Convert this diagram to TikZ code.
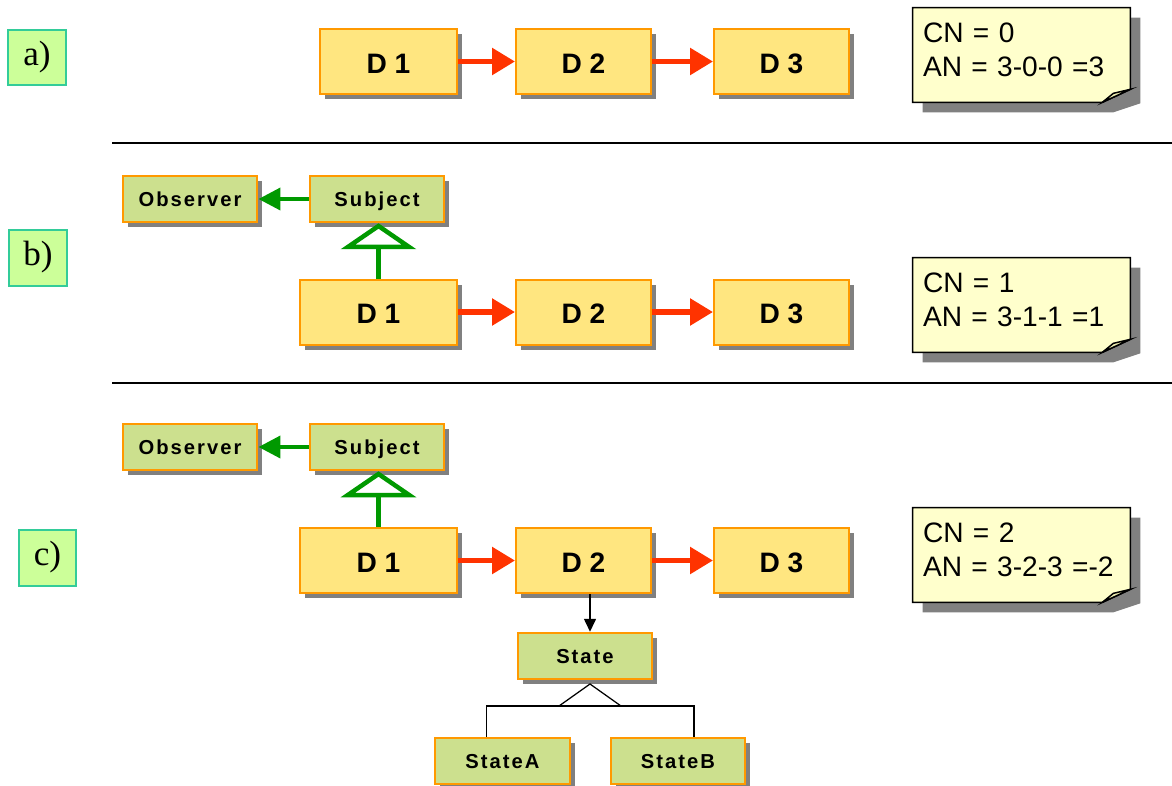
\documentclass[tikz,border=0pt]{standalone}
\usepackage{fontspec}
\setmainfont{Liberation Sans}
\newfontfamily\labelfont{Liberation Serif}
\newfontfamily\spacedfont[LetterSpace=10]{Liberation Sans}
\usetikzlibrary{arrows.meta,shadows,calc,backgrounds}
\definecolor{dfill}{HTML}{FFE680}
\definecolor{gfill}{HTML}{CCE08E}
\definecolor{boxline}{HTML}{FF9900}
\definecolor{shadowgray}{HTML}{808080}
\definecolor{redarrow}{HTML}{FF3300}
\definecolor{greenarrow}{HTML}{009900}
\definecolor{notefill}{HTML}{FFFFCC}
\definecolor{foldfill}{HTML}{EEEEB0}
\definecolor{tagfill}{HTML}{CCFF99}
\definecolor{tagline}{HTML}{33CC99}

% sticky note with folded corner, drawn behind the text node
\newcommand{\drawnote}[1]{%
  \begin{scope}[on background layer]
    \fill[shadowgray] ($(#1.north west)+(10,10)$) -- ($(#1.north east)+(10,10)$)
      -- ($(#1.south east)+(10,1)$) -- ($(#1.south east)+(-17,10)$)
      -- ($(#1.south west)+(10,10)$) -- cycle;
    \draw[line width=0.03cm, fill=notefill] (#1.north west) -- (#1.north east)
      -- ($(#1.south east)+(0,-13)$) -- ($(#1.south east)+(-28,0)$)
      -- (#1.south west) -- cycle;
    \draw[line width=0.03cm, fill=foldfill] ($(#1.south east)+(0,-13)$)
      -- ($(#1.south east)+(-17,-9)$) -- ($(#1.south east)+(-28,0)$) -- cycle;
  \end{scope}}

\begin{document}
\begin{tikzpicture}[x=0.02cm, y=-0.02cm,
    every node/.style={shape=rectangle, inner sep=0pt, align=center}]
  \tikzset{
    boxshadow/.style={drop shadow={shadow xshift=0.1cm, shadow yshift=-0.1cm, fill=shadowgray, opacity=1}},
    dbox/.style={draw=boxline, line width=0.04cm, fill=dfill, boxshadow,
      minimum width=2.7cm, minimum height=1.3cm, text height=13.5pt, text depth=0.3pt,
      font=\fontsize{16}{19}\selectfont\bfseries},
    wide/.style={minimum width=3.14cm},
    gbox/.style={draw=boxline, line width=0.04cm, fill=gfill, boxshadow,
      minimum width=2.7cm, minimum height=0.93cm, text height=0.95em, text depth=0.09em,
      font=\spacedfont\bfseries\fontsize{11.5}{14}\selectfont},
    tag/.style={draw=tagline, line width=0.04cm, fill=tagfill,
      minimum width=1.16cm, minimum height=1.12cm, font=\labelfont\fontsize{20}{24}\selectfont},
    note/.style={minimum width=4.34cm, minimum height=1.88cm, text width=3.94cm,
      text depth=0.88cm, align=left, font=\fontsize{16}{19}\selectfont},
    flow/.style={draw=redarrow, line width=0.11cm, -{Triangle[length=0.46cm, width=0.52cm]}},
    uses/.style={draw=greenarrow, line width=0.08cm, -{Triangle[length=0.44cm, width=0.44cm]}},
    inherits/.style={draw=greenarrow, line width=0.09cm, -{Triangle[open, length=0.52cm, width=1.5cm]}}
  }
  \useasboundingbox (0,0) rectangle (1172,785);

  % a)
  \node[tag] (tagA) at (37,57.5) {a)};
  \node[dbox, minimum width=2.74cm] (D1a) at (388.5,61.5) {D 1};
  \node[dbox] (D2a) at (583.5,61.5) {D 2};
  \node[dbox] (D3a) at (781.5,61.5) {D 3};
  \node[note] (noteA) at (1021.5,55) {CN = 0\\AN = 3-0-0 =3};
  \drawnote{noteA}
  \draw[flow] (D1a) -- (D2a);
  \draw[flow] (D2a) -- (D3a);
  \draw[line width=0.03cm] (112,143) -- (1172,143);

  % b)
  \node[tag] (tagB) at (38,257.5) {b)};
  \node[gbox] (obsB) at (190,199) {Observer};
  \node[gbox] (subB) at (377,199) {Subject};
  \node[dbox, wide] (D1b) at (378.5,312) {D 1};
  \node[dbox] (D2b) at (583.5,312) {D 2};
  \node[dbox] (D3b) at (781.5,312) {D 3};
  \node[note] (noteB) at (1021.5,305) {CN = 1\\AN = 3-1-1 =1};
  \drawnote{noteB}
  \draw[uses] (subB) -- (obsB);
  \draw[inherits] (D1b.north) -- (D1b.north |- subB.south);
  \draw[flow] (D1b) -- (D2b);
  \draw[flow] (D2b) -- (D3b);
  \draw[line width=0.03cm] (112,383) -- (1172,383);

  % c)
  \node[tag] (tagC) at (47.5,557.5) {c)};
  \node[gbox] (obsC) at (190,447) {Observer};
  \node[gbox] (subC) at (377,447) {Subject};
  \node[dbox, wide] (D1c) at (378.5,560.5) {D 1};
  \node[dbox] (D2c) at (583.5,560.5) {D 2};
  \node[dbox] (D3c) at (781.5,560.5) {D 3};
  \node[note] (noteC) at (1021.5,555) {CN = 2\\AN = 3-2-3 =-2};
  \drawnote{noteC}
  \draw[uses] (subC) -- (obsC);
  \draw[inherits] (D1c.north) -- (D1c.north |- subC.south);
  \draw[flow] (D1c) -- (D2c);
  \draw[flow] (D2c) -- (D3c);
  \node[gbox] (state) at (585,656) {State};
  \node[gbox] (stateA) at (502.5,761) {StateA};
  \node[gbox] (stateB) at (678,761) {StateB};
  \coordinate (fork) at (590,706);
  \draw[line width=0.03cm, -{Triangle[length=0.26cm, width=0.24cm]}] (D2c.south -| fork) -- (state.north -| fork);
  \draw[line width=0.025cm] ($(fork)+(-31,0)$) -- ($(fork)+(0,-22)$) -- ($(fork)+(31,0)$) -- cycle;
  \draw[line width=0.025cm] ($(stateA.north)+(-16,0)$) |- (fork) -| ($(stateB.north)+(16,0)$);
\end{tikzpicture}
\end{document}
